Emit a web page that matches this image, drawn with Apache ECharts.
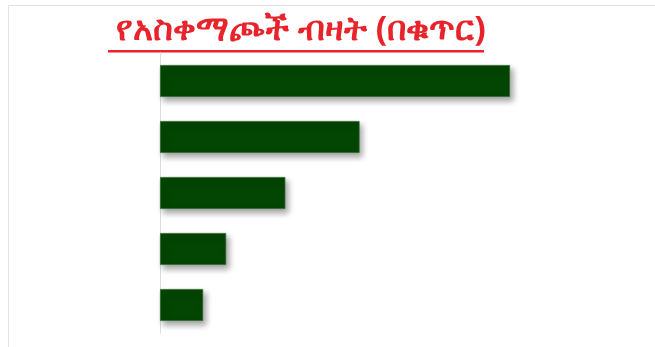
<!DOCTYPE html>
<html>
<head>
<meta charset="utf-8">
<script src="https://cdn.jsdelivr.net/npm/echarts@6/dist/echarts.min.js"></script>
<style>
  html, body { margin: 0; padding: 0; background: #fff; }
  #chart { width: 655px; height: 347px; }
</style>
</head>
<body>
<div id="chart"></div>
<script>
  // 图表数据（无坐标轴刻度，按条形长度估算）
  const titleText = 'የአስቀማጮች ብዛት (በቁጥር)'
  const categories = ['1', '2', '3', '4', '5']
  const values = [349, 199, 125, 66, 43]

  const chart = echarts.init(document.getElementById('chart'))

  const option = {
    animation: false,
    title: {
      text: titleText,
      left: 296,
      top: 8,
      textAlign: 'center',
      textStyle: {
        color: '#e8232b',
        fontSize: 34,
        fontWeight: 'bold',
        fontFamily: 'Noto Sans, DejaVu Sans, sans-serif'
      }
    },
    // 外框和标题下划线
    graphic: [
      {
        type: 'rect',
        shape: { x: 8.5, y: 5.5, width: 660, height: 360 },
        style: { fill: 'none', stroke: '#dde2e8', lineWidth: 1 },
        silent: true
      },
      {
        type: 'rect',
        shape: { x: 108, y: 50, width: 376, height: 2.5 },
        style: { fill: '#e8232b' },
        silent: true
      }
    ],
    grid: {
      left: 160,
      right: 145,
      top: 53,
      bottom: 14
    },
    xAxis: {
      type: 'value',
      min: 0,
      max: 349,
      show: false,
      splitLine: { show: false }
    },
    yAxis: {
      type: 'category',
      inverse: true,
      data: categories,
      axisLine: { show: true, lineStyle: { color: '#d9dee4', width: 1 } },
      axisTick: { show: false },
      axisLabel: { show: false }
    },
    series: [
      {
        type: 'bar',
        data: values,
        barWidth: 32,
        itemStyle: {
          color: '#034503',
          borderColor: '#2f6a2f',
          borderWidth: 0.8,
          shadowColor: 'rgba(0,0,0,0.35)',
          shadowBlur: 6,
          shadowOffsetX: 3,
          shadowOffsetY: 4
        }
      }
    ]
  }

  chart.setOption(option)
</script>
</body>
</html>
